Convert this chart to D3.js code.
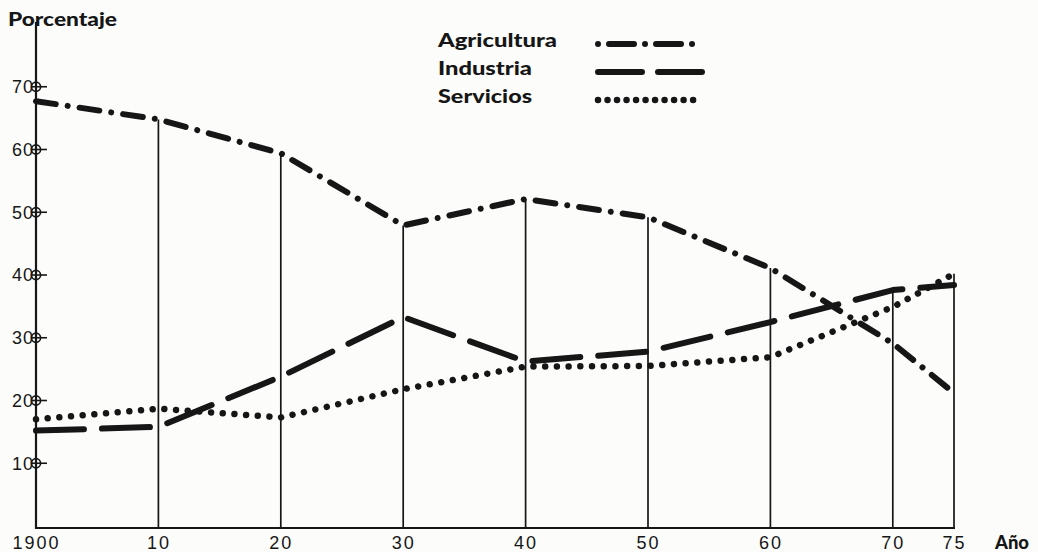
<!DOCTYPE html>
<html>
<head>
<meta charset="utf-8">
<script src="https://cdn.jsdelivr.net/npm/d3@7"></script>
<style>
  html, body { margin: 0; padding: 0; background: #fcfcfb; }
  svg { display: block; }
</style>
</head>
<body>
<svg id="chart" width="1038" height="552"></svg>
<script>
// ---- data ----
const years = [1900, 1910, 1920, 1930, 1940, 1950, 1960, 1970, 1975];
const yearLabels = ["1900", "10", "20", "30", "40", "50", "60", "70", "75"];
const agricultura = [67.7, 64.8, 59.4, 47.9, 52.1, 49.2, 41.1, 29.1, 21.2];
const industria   = [15.2, 15.8, 23.8, 33.3, 26.2, 27.8, 32.5, 37.6, 38.4];
const servicios   = [17.0, 18.7, 17.3, 21.8, 25.4, 25.5, 26.9, 34.9, 40.2];
const yTicks = [10, 20, 30, 40, 50, 60, 70];
const seriesNames = ["Agricultura", "Industria", "Servicios"];

const ink = "#161616";
const svg = d3.select("#chart");

const x = d3.scaleLinear().domain([1900, 1975]).range([36, 954]);
const y = d3.scaleLinear().domain([0, 80]).range([526, 24]);
const baseY = 528;

// styles per series
const styles = {
  Agricultura: { width: 6, dash: "20,12,0.01,12", legendDash: "0.01,11,25,11" },
  Industria:   { width: 6, dash: "48,18", legendDash: "44,16" },
  Servicios:   { width: 6.5, dash: "0.01,11.7", legendDash: "0.01,9.5" }
};
const seriesData = { Agricultura: agricultura, Industria: industria, Servicios: servicios };

// vertical drop lines to the highest value at each year
years.forEach((yr, i) => {
  if (i === 0) return;
  const top = Math.max(agricultura[i], industria[i], servicios[i]);
  svg.append("line")
    .attr("x1", x(yr)).attr("x2", x(yr))
    .attr("y1", baseY).attr("y2", y(top))
    .attr("stroke", ink).attr("stroke-width", 1.7);
});

// x axis
const xAxis = d3.axisBottom(x)
  .tickValues(years)
  .tickFormat((d, i) => yearLabels[i])
  .tickSize(0)
  .tickPadding(8);
const gx = svg.append("g").attr("transform", `translate(0,${baseY})`).call(xAxis);
gx.select(".domain").remove();
gx.selectAll("text")
  .attr("font-family", "Liberation Sans, Arial, sans-serif")
  .attr("font-size", 18)
  .attr("letter-spacing", "2px")
  .attr("fill", ink);
svg.append("line")
  .attr("x1", x(1900) - 1).attr("x2", x(1975) + 1)
  .attr("y1", baseY).attr("y2", baseY)
  .attr("stroke", ink).attr("stroke-width", 2.2);

// y axis
const yAxis = d3.axisLeft(y)
  .tickValues(yTicks)
  .tickSize(0)
  .tickPadding(2);
const gy = svg.append("g").attr("transform", `translate(${x(1900)},0)`).call(yAxis);
gy.select(".domain").remove();
gy.selectAll("text")
  .attr("font-family", "Liberation Sans, Arial, sans-serif")
  .attr("font-size", 18)
  .attr("letter-spacing", "1px")
  .attr("fill", ink);
svg.append("line")
  .attr("x1", x(1900)).attr("x2", x(1900))
  .attr("y1", baseY + 1).attr("y2", 22)
  .attr("stroke", ink).attr("stroke-width", 2.2);

// circle tick markers
const tickG = svg.append("g");
yTicks.forEach(v => {
  const cy = y(v), cx = x(1900);
  tickG.append("circle").attr("cx", cx).attr("cy", cy).attr("r", 4.6)
    .attr("fill", "none").attr("stroke", ink).attr("stroke-width", 1.6);
  tickG.append("line").attr("x1", cx - 4.6).attr("x2", cx + 11)
    .attr("y1", cy).attr("y2", cy).attr("stroke", ink).attr("stroke-width", 1.6);
});

// series lines
const line = d3.line().x((d, i) => x(years[i])).y(d => y(d));
seriesNames.forEach(name => {
  svg.append("path")
    .datum(seriesData[name])
    .attr("d", line)
    .attr("fill", "none")
    .attr("stroke", ink)
    .attr("stroke-width", styles[name].width)
    .attr("stroke-linecap", "round")
    .attr("stroke-linejoin", "round")
    .attr("stroke-dasharray", styles[name].dash);
});

// titles
const boldFont = "Lato, 'Noto Sans', sans-serif";
svg.append("text").text("Porcentaje")
  .attr("x", 8).attr("y", 26)
  .attr("font-family", boldFont).attr("font-weight", 900).attr("font-size", 18)
  .attr("textLength", 109).attr("lengthAdjust", "spacingAndGlyphs")
  .attr("fill", ink);
svg.append("text").text("Año")
  .attr("x", 995).attr("y", 549)
  .attr("font-family", boldFont).attr("font-weight", 900).attr("font-size", 18)
  .attr("textLength", 34).attr("lengthAdjust", "spacingAndGlyphs")
  .attr("fill", ink);

// legend
const legendBase = [47, 75, 103];
const legendLen = [119, 94, 94];
seriesNames.forEach((name, i) => {
  svg.append("text").text(name)
    .attr("x", 438).attr("y", legendBase[i])
    .attr("font-family", boldFont).attr("font-weight", 900).attr("font-size", 18)
    .attr("textLength", legendLen[i]).attr("lengthAdjust", "spacingAndGlyphs")
    .attr("fill", ink);
  svg.append("line")
    .attr("x1", 598).attr("x2", 702)
    .attr("y1", legendBase[i] - 3).attr("y2", legendBase[i] - 3)
    .attr("stroke", ink)
    .attr("stroke-width", styles[name].width)
    .attr("stroke-linecap", "round")
    .attr("stroke-dasharray", styles[name].legendDash);
});
</script>
</body>
</html>
